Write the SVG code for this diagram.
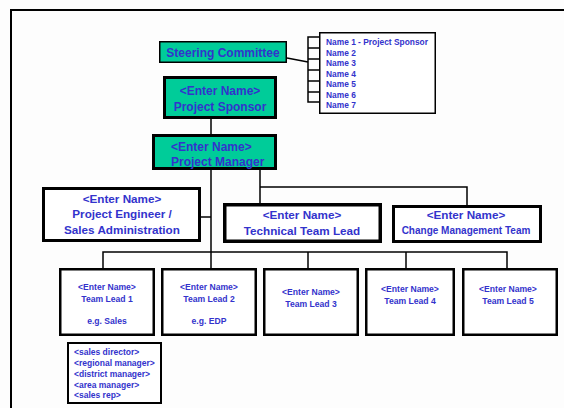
<svg xmlns="http://www.w3.org/2000/svg" width="564" height="408" viewBox="0 0 564 408">
<style>
.t{font-family:"Liberation Sans",Arial,sans-serif;font-weight:bold;fill:#3333CC;text-anchor:middle}
.l{font-family:"Liberation Sans",Arial,sans-serif;font-weight:bold;fill:#3333CC;text-anchor:start}
.box{fill:#FFFFFF;stroke:#000000}
.teal{fill:#00CC99;stroke:#000000}
.c{fill:none;stroke:#000000;stroke-width:1.5}
</style>
<rect x="0" y="0" width="564" height="408" fill="#FDFDFD"/>
<path d="M11 408 V10 H564" fill="none" stroke="#000" stroke-width="2"/>
<g id="connectors">
<path class="c" d="M287 58 L308 62"/>
<path class="c" d="M319 37 H308 V102 H319 M308 48 H319 M308 59 H319 M308 70 H319 M308 81 H319 M308 92 H319"/>
<path class="c" d="M211 119 V134"/>
<path class="c" d="M211 170 V268"/>
<path class="c" d="M201 217 H211"/>
<path class="c" d="M260 170 V187 H467 V205 M260 187 V203"/>
<path class="c" d="M103 268 V252 H507 V268 M308 252 V268 M406 252 V268"/>
</g>
<g id="steering">
<rect class="teal" x="159.75" y="41.75" width="126.5" height="20.5" stroke-width="1.5"/>
<text class="t" x="223" y="56.5" font-size="12">Steering Committee</text>
</g>
<g id="names">
<rect class="box" x="319.75" y="32.75" width="115.5" height="80.5" stroke-width="1.5"/>
<text class="l" x="326" y="45" font-size="8.4">Name 1 - Project Sponsor</text>
<text class="l" x="326" y="55.5" font-size="8.4">Name 2</text>
<text class="l" x="326" y="66" font-size="8.4">Name 3</text>
<text class="l" x="326" y="76.5" font-size="8.4">Name 4</text>
<text class="l" x="326" y="87" font-size="8.4">Name 5</text>
<text class="l" x="326" y="97.5" font-size="8.4">Name 6</text>
<text class="l" x="326" y="108" font-size="8.4">Name 7</text>
</g>
<g id="sponsor">
<rect class="teal" x="164.5" y="77.5" width="111" height="40" stroke-width="3"/>
<text class="t" x="220" y="95" font-size="12">&lt;Enter Name&gt;</text>
<text class="t" x="220" y="110.5" font-size="12">Project Sponsor</text>
</g>
<g id="manager">
<rect class="teal" x="153.5" y="135.5" width="122" height="33" stroke-width="3"/>
<text class="l" x="171" y="150.5" font-size="12">&lt;Enter Name&gt;</text>
<text class="l" x="171" y="166" font-size="12">Project Manager</text>
</g>
<g id="engineer">
<rect class="box" x="43.5" y="188.5" width="156" height="52" stroke-width="3"/>
<text class="t" x="122" y="203" font-size="11.7">&lt;Enter Name&gt;</text>
<text class="t" x="122" y="218" font-size="11.7">Project Engineer /</text>
<text class="t" x="122" y="234" font-size="11.7">Sales Administration</text>
</g>
<g id="technical">
<rect class="box" x="224.75" y="204.75" width="155.5" height="36.5" stroke-width="3.5"/>
<text class="t" x="302" y="219" font-size="11.7">&lt;Enter Name&gt;</text>
<text class="t" x="302" y="235" font-size="11.7">Technical Team Lead</text>
</g>
<g id="change">
<rect class="box" x="393.5" y="206.5" width="147" height="35" stroke-width="3"/>
<text class="t" x="466" y="219" font-size="11.7">&lt;Enter Name&gt;</text>
<text class="t" x="466" y="233.5" font-size="10">Change Management Team</text>
</g>
<g id="tl1">
<rect class="box" x="60.25" y="269.25" width="93.5" height="65.5" stroke-width="2.5"/>
<text class="t" x="107" y="290" font-size="8.6">&lt;Enter Name&gt;</text>
<text class="t" x="107" y="301.5" font-size="8.6">Team Lead 1</text>
<text class="t" x="107" y="324" font-size="8.6">e.g. Sales</text>
</g>
<g id="tl2">
<rect class="box" x="162.25" y="269.25" width="93.5" height="65.5" stroke-width="2.5"/>
<text class="t" x="209" y="290" font-size="8.6">&lt;Enter Name&gt;</text>
<text class="t" x="209" y="301.5" font-size="8.6">Team Lead 2</text>
<text class="t" x="209" y="324" font-size="8.6">e.g. EDP</text>
</g>
<g id="tl3">
<rect class="box" x="264.25" y="269.25" width="93.5" height="65.5" stroke-width="2.5"/>
<text class="t" x="311" y="295" font-size="8.6">&lt;Enter Name&gt;</text>
<text class="t" x="311" y="306.5" font-size="8.6">Team Lead 3</text>
</g>
<g id="tl4">
<rect class="box" x="366.25" y="269.25" width="87.5" height="65.5" stroke-width="2.5"/>
<text class="t" x="410" y="292" font-size="8.6">&lt;Enter Name&gt;</text>
<text class="t" x="410" y="303.5" font-size="8.6">Team Lead 4</text>
</g>
<g id="tl5">
<rect class="box" x="463.25" y="269.25" width="93.5" height="65.5" stroke-width="2.5"/>
<text class="t" x="508" y="292" font-size="8.6">&lt;Enter Name&gt;</text>
<text class="t" x="508" y="303.5" font-size="8.6">Team Lead 5</text>
</g>
<g id="sales">
<rect class="box" x="68" y="343" width="93" height="60" stroke-width="2"/>
<text class="l" x="74" y="355" font-size="8.5">&lt;sales director&gt;</text>
<text class="l" x="74" y="365.5" font-size="8.5">&lt;regional manager&gt;</text>
<text class="l" x="74" y="376.5" font-size="8.5">&lt;district manager&gt;</text>
<text class="l" x="74" y="387.5" font-size="8.5">&lt;area manager&gt;</text>
<text class="l" x="74" y="398" font-size="8.5">&lt;sales rep&gt;</text>
</g>
</svg>
